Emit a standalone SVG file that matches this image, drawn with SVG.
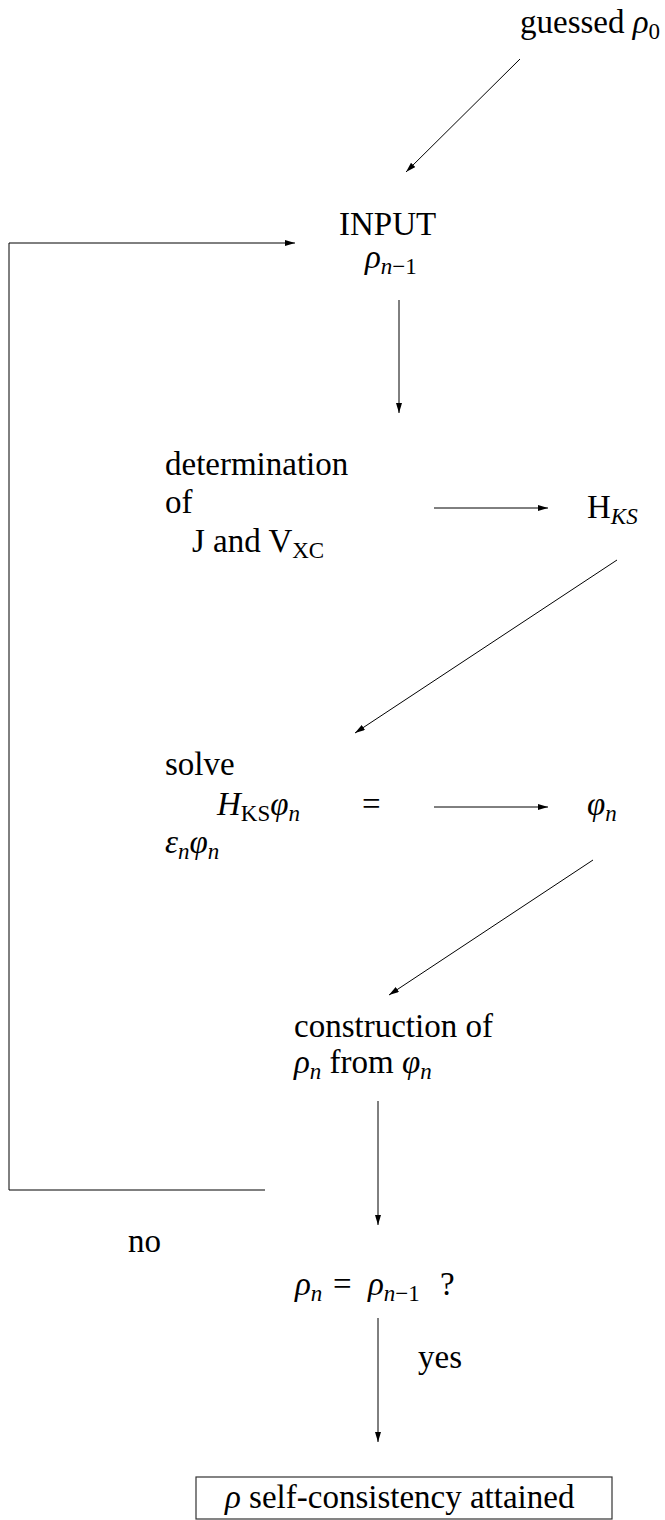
<svg xmlns="http://www.w3.org/2000/svg" width="665" height="1520" viewBox="0 0 665 1520">
<style>
text{font-family:"Liberation Serif","Times New Roman",serif;font-size:33px;fill:#000}
.i{font-style:italic}
.s{font-size:23px}
.ln{stroke:#000;stroke-width:1;fill:none}
.box{stroke:#333;stroke-width:1.2;fill:none}
</style>
<defs>
<marker id="ah" viewBox="0 0 10 6" refX="10" refY="3" markerWidth="10" markerHeight="6" markerUnits="userSpaceOnUse" orient="auto">
<path d="M0,0 L10,3 L0,6 Z" fill="#000"/>
</marker>
</defs>
<rect width="665" height="1520" fill="#fff"/>
<g id="connectors">
<line class="ln" x1="520" y1="59" x2="406" y2="172" marker-end="url(#ah)"/>
<path class="ln" d="M265,1190 H9 V243 H295" marker-end="url(#ah)"/>
<line class="ln" x1="399" y1="300" x2="399" y2="413" marker-end="url(#ah)"/>
<line class="ln" x1="434" y1="508" x2="548" y2="508" marker-end="url(#ah)"/>
<line class="ln" x1="617" y1="560" x2="355" y2="733" marker-end="url(#ah)"/>
<line class="ln" x1="434" y1="807" x2="548" y2="807" marker-end="url(#ah)"/>
<line class="ln" x1="593" y1="860" x2="389" y2="995" marker-end="url(#ah)"/>
<line class="ln" x1="378" y1="1101" x2="378" y2="1225" marker-end="url(#ah)"/>
<line class="ln" x1="378" y1="1318" x2="378" y2="1442" marker-end="url(#ah)"/>
</g>
<g id="guess">
<text x="520" y="33">guessed <tspan class="i">ρ</tspan><tspan class="s" dy="6">0</tspan></text>
</g>
<g id="input">
<text x="339" y="235">INPUT</text>
<text x="365" y="268"><tspan class="i">ρ</tspan><tspan class="s i" dy="6">n</tspan><tspan class="s">−1</tspan></text>
</g>
<g id="determination">
<text x="165" y="475">determination</text>
<text x="165" y="513">of</text>
<text x="192" y="552">J and V<tspan class="s" dy="6">XC</tspan></text>
</g>
<g id="hks">
<text x="587" y="518">H<tspan class="s i" dy="6">KS</tspan></text>
</g>
<g id="solve">
<text x="165" y="775">solve</text>
<text x="217" y="815"><tspan class="i">H</tspan><tspan class="s" dy="6">KS</tspan><tspan class="i" dy="-6">φ</tspan><tspan class="s i" dy="6">n</tspan></text>
<text x="362" y="815">=</text>
<text x="165" y="853"><tspan class="i">ε</tspan><tspan class="s i" dy="6">n</tspan><tspan class="i" dy="-6">φ</tspan><tspan class="s i" dy="6">n</tspan></text>
</g>
<g id="phi">
<text x="587" y="815"><tspan class="i">φ</tspan><tspan class="s i" dy="6">n</tspan></text>
</g>
<g id="construction">
<text x="294" y="1037">construction of</text>
<text x="294" y="1073"><tspan class="i">ρ</tspan><tspan class="s i" dy="6">n</tspan><tspan dy="-6"> from </tspan><tspan class="i">φ</tspan><tspan class="s i" dy="6">n</tspan></text>
</g>
<g id="no-label">
<text x="128" y="1252">no</text>
</g>
<g id="test">
<text x="295" y="1295"><tspan class="i">ρ</tspan><tspan class="s i" dy="6">n</tspan><tspan x="333" dy="-6">=</tspan><tspan class="i" x="368">ρ</tspan><tspan class="s i" dy="6">n</tspan><tspan class="s">−1</tspan><tspan x="440" dy="-6">?</tspan></text>
</g>
<g id="yes-label">
<text x="418" y="1368">yes</text>
</g>
<g id="result">
<rect class="box" x="196" y="1477" width="416" height="42"/>
<text x="225" y="1508"><tspan class="i">ρ</tspan> self-consistency attained</text>
</g>
</svg>
